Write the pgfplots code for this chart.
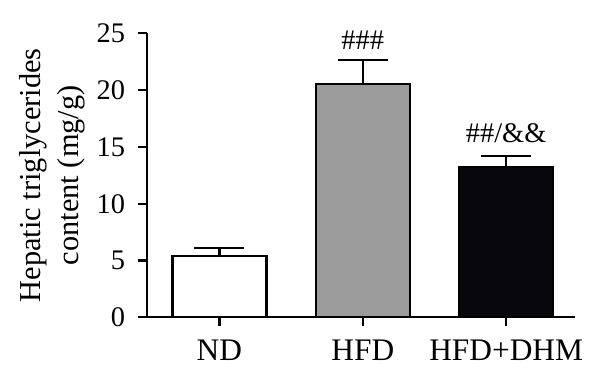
\documentclass[border=0pt]{standalone}
\usepackage{fontspec}
\setmainfont{Liberation Serif}
\usepackage{pgfplots}
\pgfplotsset{compat=1.18}
\definecolor{hfdgray}{RGB}{155,155,155}
\definecolor{dhmblack}{RGB}{8,8,12}
\begin{document}
\fontsize{28}{34}\selectfont
\begin{tikzpicture}
\useasboundingbox (-147bp,-64.7bp) rectangle (453bp,317.3bp);
\begin{axis}[
  at={(0,0)}, anchor=south west,
  width=428bp, height=284bp, scale only axis,
  xmin=-0.505, xmax=2.48, ymin=0, ymax=25,
  axis x line*=bottom, axis y line*=left,
  every outer x axis line/.append style={-},
  every outer y axis line/.append style={-},
  axis line style={line width=2.2bp, black},
  tick align=outside, major tick length=8.5bp,
  tick style={line width=2.2bp, black},
  xtick={0,1,2}, xticklabels={ND,HFD,HFD+DHM},
  ytick={0,5,10,15,20,25},
  minor tick num=0,
  /pgf/number format/assume math mode=true,
  xticklabel style={font=\fontsize{31.5}{36}\selectfont, anchor=north, yshift=-5bp},
  yticklabel style={font=\fontsize{28.5}{32}\selectfont, anchor=east, xshift=-4bp},
  ylabel={Hepatic triglycerides\\content (mg/g)},
  ylabel style={align=center, font=\fontsize{30.5}{38}\selectfont,
    at={(axis description cs:0,0.5)}, anchor=center, rotate=0, yshift=95bp},
  clip=false,
]
\addplot[ybar, bar width=94bp, bar shift=0pt, fill=white, draw=black, line width=2.2bp,
  error bars/.cd, y dir=plus, y explicit,
  error bar style={line width=2.2bp, black},
  error mark options={rotate=90, line width=2.2bp, mark size=25bp, black}]
  coordinates {(0,5.42) +- (0,0.65)};
\addplot[ybar, bar width=94bp, bar shift=0pt, fill=hfdgray, draw=black, line width=2.2bp,
  error bars/.cd, y dir=plus, y explicit,
  error bar style={line width=2.2bp, black},
  error mark options={rotate=90, line width=2.2bp, mark size=25bp, black}]
  coordinates {(1,20.54) +- (0,2.11)};
\addplot[ybar, bar width=94bp, bar shift=0pt, fill=dhmblack, draw=black, line width=2.2bp,
  error bars/.cd, y dir=plus, y explicit,
  error bar style={line width=2.2bp, black},
  error mark options={rotate=90, line width=2.2bp, mark size=25bp, black}]
  coordinates {(2,13.2) +- (0,0.97)};
\node[font=\fontsize{28.5}{34}\selectfont] at (axis cs:1,24.4) {\#\#\#};
\node[font=\fontsize{28.5}{34}\selectfont] at (axis cs:2,16.2) {\#\#/\&\&};
\end{axis}
\end{tikzpicture}
\end{document}
